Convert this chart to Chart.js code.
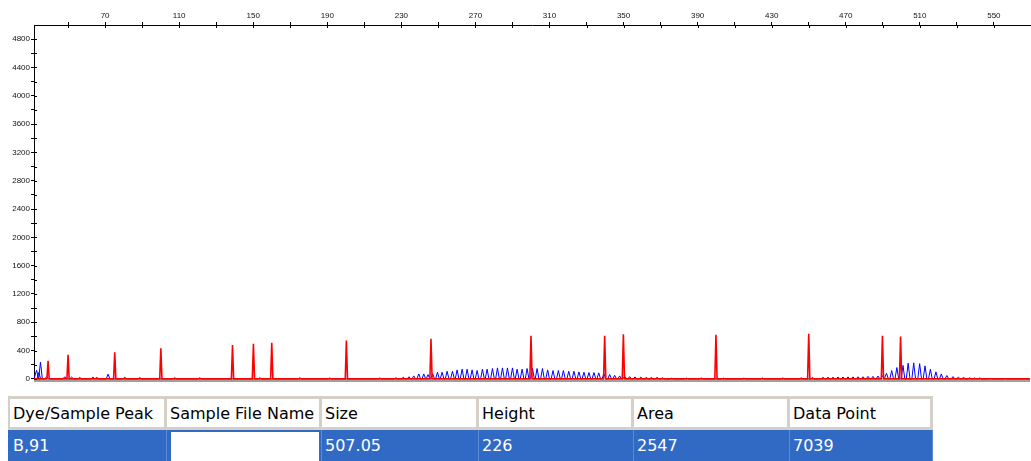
<!DOCTYPE html>
<html>
<head>
<meta charset="utf-8">
<script src="https://cdn.jsdelivr.net/npm/chart.js@4.4.1/dist/chart.umd.min.js"></script>
<style>
    body { margin: 0; background: #fff; overflow: hidden; width: 1031px; height: 461px; position: relative; }
    #plot { position: absolute; left: 0; top: 0; }
    #grid { position: absolute; left: 8px; top: 396px; border-top: 3px solid #d4d0c8; }
    #grid table { border-collapse: separate; border-spacing: 0; font-family: "DejaVu Sans", sans-serif; font-size: 16px; table-layout: fixed; }
    #grid td { padding: 0 0 0 3px; white-space: nowrap; overflow: hidden; }
    #grid tr.head td { background: #fff; color: #000; height: 28px; border-right: 3px solid #d4d0c8; border-bottom: 3px solid #d4d0c8; }
    #grid tr.head td:first-child { border-left: 2px solid #d4d0c8; }
    #grid tr.sel td { background: #316ac5; color: #fff; height: 31px; border-right: 1px solid #5a8ad6; }
    #grid tr.sel td:first-child { border-left: 2px solid #316ac5; }
    #grid tr.sel td.blank { background: #fff; box-shadow: inset 4px 2px 0 #316ac5, inset -2px 0 0 #316ac5; }
</style>
</head>
<body>
<canvas id="plot" width="1031" height="390"></canvas>
<div id="grid">
    <table>
        <colgroup>
            <col style="width:159px"><col style="width:155px"><col style="width:157px">
            <col style="width:155px"><col style="width:156px"><col style="width:143px">
        </colgroup>
        <tr class="head" id="headRow"></tr>
        <tr class="sel" id="selRow"></tr>
    </table>
</div>
<script>
// Size standard (red) peaks: size in bp, height in RFU
const redSizes = [39.2, 50.0, 75.2, 100.1, 138.8, 150.1, 160.0, 200.3, 246.0, 300.0, 339.8, 349.9, 399.9, 450.0, 489.8, 499.6];
const redHeights = [254, 340, 377, 434, 480, 495, 509, 541, 565, 608, 608, 632, 622, 636, 608, 598];

// Sample (blue) peaks
const blueSizes = [
    33.0, 34.2, 35.1, 38.4, 48.2, 51.9, 56.3, 63.4, 65.5, 71.6, 80.6, 88.7, 107.6, 121.1, 153.5, 175.1, 191.3, 218.3, 227.0, 231.0,
    234.1, 236.7, 239.4, 242.1, 244.4, 246.9, 249.5, 252.0, 254.7, 257.6, 260.1, 262.8, 265.5, 268.2, 270.9, 273.8, 276.3,
    279.2, 281.9, 284.6, 287.3, 290.0, 292.5, 295.2, 297.9, 300.8, 303.3, 306.2, 309.0, 311.9, 314.8, 317.5, 320.4, 323.2,
    325.9, 328.6, 331.3, 334.0, 336.6, 339.4, 342.5, 345.2, 347.9, 350.6, 353.3, 356.2, 359.3, 362.3, 365.0, 368.1, 371.0,
    376.0, 384.0, 392.0, 404.0, 415.0, 425.0, 436.0, 446.0, 452.0,
    457.7, 460.4, 463.1, 465.8, 468.5, 471.2, 473.9, 476.6, 479.3, 482.0, 484.7, 487.4, 489.8, 492.0, 494.8, 497.6, 500.9,
    503.7, 506.7, 509.9, 512.8, 515.7, 518.7, 521.6, 524.6, 527.9, 530.8, 533.6, 536.9, 539.6, 542.3, 548.0, 556.0
];
const blueHeights = [
    124, 90, 236, 30, 30, 25, 20, 25, 20, 66, 22, 18, 15, 15, 14, 14, 12, 12, 15, 22,
    30, 42, 70, 70, 60, 75, 94, 94, 108, 108, 127, 137, 137, 127, 118, 137, 137,
    146, 155, 155, 155, 155, 137, 137, 146, 150, 146, 146, 127, 118, 118, 118, 108, 108,
    99, 94, 89, 89, 85, 75, 61, 50, 42, 37, 32, 28, 24, 20, 20, 20, 15,
    10, 10, 12, 10, 10, 12, 12, 15, 18,
    20, 22, 22, 25, 25, 28, 28, 30, 30, 35, 35, 40, 45, 80, 118, 160, 190,
    222, 226, 215, 184, 137, 99, 70, 47, 32, 24, 20, 15, 12, 12, 8, 6
];

// Axis ticks
const xTicks = [50, 70, 90, 110, 130, 150, 170, 190, 210, 230, 250, 270, 290, 310, 330, 350, 370, 390, 410, 430, 450, 470, 490, 510, 530, 550];
const xLabels = [70, 110, 150, 190, 230, 270, 310, 350, 390, 430, 470, 510, 550];
const yTicks = [0, 200, 400, 600, 800, 1000, 1200, 1400, 1600, 1800, 2000, 2200, 2400, 2600, 2800, 3000, 3200, 3400, 3600, 3800, 4000, 4200, 4400, 4600, 4800];
const yLabels = [0, 400, 800, 1200, 1600, 2000, 2400, 2800, 3200, 3600, 4000, 4400, 4800];

// Peak table
const tableHeaders = ['Dye/Sample Peak', 'Sample File Name', 'Size', 'Height', 'Area', 'Data Point'];
const tableRow = ['B,91', '', '507.05', '226', '2547', '7039'];

const xMin = 31.6, xMax = 569.5;

function trace(sizes, heights, half) {
    const pts = [{ x: xMin, y: 0 }];
    sizes.forEach(function(s, i) {
        pts.push({ x: s - half, y: 0 }, { x: s, y: heights[i] }, { x: s + half, y: 0 });
    });
    pts.push({ x: xMax, y: 0 });
    return pts;
}

// ticks crossing the axis lines + grey bottom rule
const frame = {
    id: 'frame',
    afterDraw: function(chart) {
        const c = chart.ctx, a = chart.chartArea;
        c.save();
        c.fillStyle = '#a0a0a0';
        c.fillRect(a.left, a.bottom - 1, a.right - a.left, 2);
        c.strokeStyle = '#000';
        c.lineWidth = 1;
        c.beginPath();
        chart.scales.x.ticks.forEach(function(t) {
            const px = Math.round(chart.scales.x.getPixelForValue(t.value)) + 0.5;
            c.moveTo(px, a.top);
            c.lineTo(px, a.top + 3);
        });
        chart.scales.y.ticks.forEach(function(t) {
            const py = Math.round(chart.scales.y.getPixelForValue(t.value)) + 0.5;
            c.moveTo(a.left, py);
            c.lineTo(a.left + 3, py);
        });
        c.stroke();
        c.restore();
    }
};

document.getElementById('headRow').innerHTML = tableHeaders.map(function(h) { return '<td>' + h + '</td>'; }).join('');
document.getElementById('selRow').innerHTML = tableRow.map(function(v, i) {
    return i === 1 ? '<td class="blank"></td>' : '<td>' + v + '</td>';
}).join('');

const tickFont = { family: 'Liberation Sans', size: 8 };

new Chart(document.getElementById('plot').getContext('2d'), {
    type: 'line',
    data: {
        datasets: [{
            label: 'Red',
            data: trace(redSizes, redHeights, 0.6),
            borderColor: '#ff0000',
            borderWidth: 1.6,
            pointRadius: 0,
            tension: 0,
            order: 0
        }, {
            label: 'Blue',
            data: trace(blueSizes, blueHeights, 1.0),
            borderColor: '#0000ff',
            borderWidth: 1,
            pointRadius: 0,
            tension: 0,
            order: 1
        }]
    },
    options: {
        responsive: false,
        animation: false,
        layout: { padding: { left: 0, right: 1, top: 0, bottom: 9 } },
        plugins: {
            legend: { display: false },
            tooltip: { enabled: false }
        },
        scales: {
            x: {
                type: 'linear',
                position: 'top',
                min: xMin,
                max: xMax,
                afterBuildTicks: function(scale) { scale.ticks = xTicks.map(function(v) { return { value: v }; }); },
                afterFit: function(scale) { scale.height = 25; },
                grid: { drawOnChartArea: false, color: '#000', tickLength: 3 },
                border: { color: '#000', width: 1 },
                ticks: {
                    autoSkip: false,
                    maxRotation: 0,
                    padding: 1,
                    color: '#111',
                    font: tickFont,
                    callback: function(v) { return xLabels.includes(v) ? String(v) : ''; }
                }
            },
            y: {
                min: -30,
                max: 5000,
                afterBuildTicks: function(scale) { scale.ticks = yTicks.map(function(v) { return { value: v }; }); },
                afterFit: function(scale) { scale.width = 34; },
                grid: { drawOnChartArea: false, color: '#000', tickLength: 3 },
                border: { color: '#000', width: 1 },
                ticks: {
                    autoSkip: false,
                    padding: 1,
                    color: '#111',
                    font: tickFont,
                    callback: function(v) { return yLabels.includes(v) ? String(v) : ''; }
                }
            }
        }
    },
    plugins: [frame]
});
</script>
</body>
</html>
